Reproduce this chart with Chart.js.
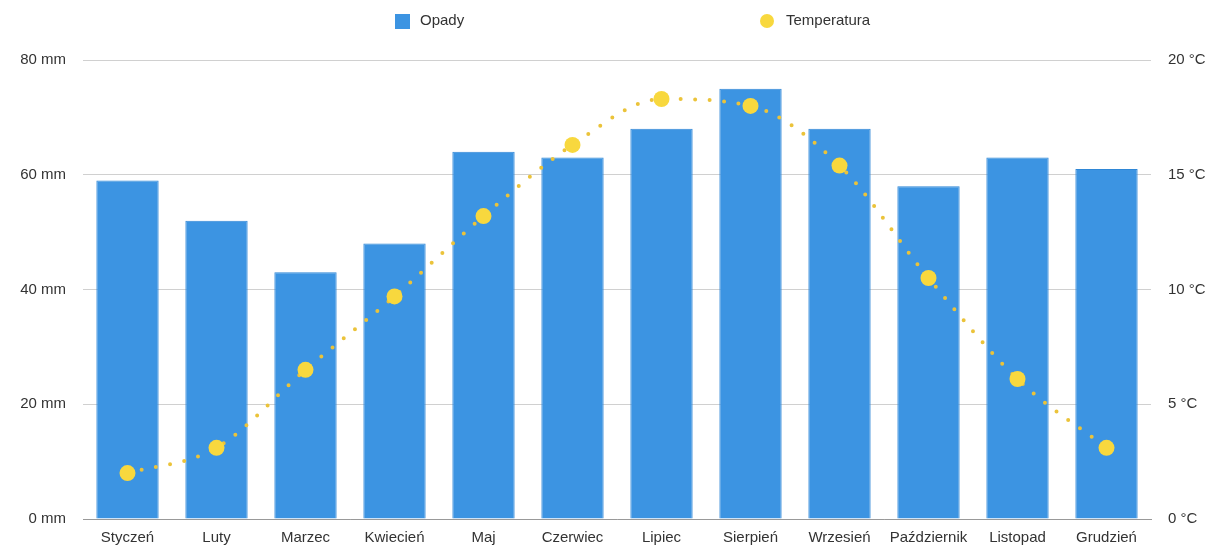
<!DOCTYPE html>
<html>
<head>
<meta charset="utf-8">
<script src="https://cdn.jsdelivr.net/npm/chart.js@4/dist/chart.umd.min.js"></script>
<style>
  html, body { margin: 0; padding: 0; background: #fff; }
  #wrap { width: 1214px; height: 551px; position: relative; }
</style>
</head>
<body>
<div id="wrap"><canvas id="c" width="1214" height="551"></canvas></div>
<script>
// Monthly climate: precipitation (mm) and mean temperature (°C)
const months = ['Styczeń', 'Luty', 'Marzec', 'Kwiecień', 'Maj', 'Czerwiec', 'Lipiec', 'Sierpień', 'Wrzesień', 'Październik', 'Listopad', 'Grudzień'];
const precipitation = [59, 52, 43, 48, 64, 63, 68, 75, 68, 58, 63, 61];
const temperature = [2.0, 3.1, 6.5, 9.7, 13.2, 16.3, 18.3, 18.0, 15.4, 10.5, 6.1, 3.1];
const seriesNames = ['Opady', 'Temperatura'];
const mmTicks = [0, 20, 40, 60, 80];
const degTicks = [0, 5, 10, 15, 20];

const FONT = '"Liberation Sans", Arial, sans-serif';
const BLUE = '#3c94e2';
const YELLOW = '#f8d83e';
const DOT = '#ebc33a';

// Legend drawn at the top, items placed at fixed spots
const topLegend = {
  id: 'topLegend',
  afterDraw(chart) {
    const ctx = chart.ctx;
    ctx.save();
    ctx.font = '15px ' + FONT;
    ctx.textBaseline = 'middle';
    ctx.fillStyle = BLUE;
    ctx.fillRect(395, 14, 15, 15);
    ctx.fillStyle = '#333';
    ctx.fillText(seriesNames[0], 420, 21);
    ctx.fillStyle = YELLOW;
    ctx.beginPath();
    ctx.arc(767, 21, 7, 0, Math.PI * 2);
    ctx.fill();
    ctx.fillStyle = '#333';
    ctx.fillText(seriesNames[1], 786, 21);
    ctx.restore();
  }
};

new Chart(document.getElementById('c'), {
  data: {
    labels: months,
    datasets: [
      {
        type: 'line',
        label: seriesNames[1],
        data: temperature,
        yAxisID: 'yT',
        borderColor: DOT,
        borderWidth: 4,
        borderCapStyle: 'round',
        borderDash: [0, 14.5],
        cubicInterpolationMode: 'monotone',
        pointRadius: 8,
        pointBackgroundColor: YELLOW,
        pointBorderWidth: 0,
        order: 0
      },
      {
        type: 'bar',
        label: seriesNames[0],
        data: precipitation,
        yAxisID: 'yP',
        backgroundColor: BLUE,
        borderColor: '#2f87d6',
        borderWidth: 1,
        categoryPercentage: 0.7,
        barPercentage: 1.0,
        order: 1
      }
    ]
  },
  options: {
    responsive: false,
    animation: false,
    layout: { padding: { top: 60, bottom: 0, left: 0, right: 0 } },
    plugins: {
      legend: { display: false },
      tooltip: { enabled: false }
    },
    scales: {
      x: {
        afterFit(s) { s.height = 32; },
        grid: { display: false, drawTicks: false },
        border: { display: true, color: '#999', width: 1 },
        ticks: { color: '#333', font: { family: FONT, size: 15 }, padding: 10, maxRotation: 0, autoSkip: false }
      },
      yP: {
        position: 'left',
        min: 0, max: 80,
        afterBuildTicks(s) { s.ticks = mmTicks.map(v => ({ value: v })); },
        afterFit(s) { s.width = 83; },
        grid: { color: '#d0d0d0', drawTicks: false },
        border: { display: false },
        ticks: { color: '#333', font: { family: FONT, size: 15 }, padding: 17, callback: v => v + ' mm' }
      },
      yT: {
        position: 'right',
        min: 0, max: 20,
        afterBuildTicks(s) { s.ticks = degTicks.map(v => ({ value: v })); },
        afterFit(s) { s.width = 63; },
        grid: { display: false, drawTicks: false },
        border: { display: false },
        ticks: { color: '#333', font: { family: FONT, size: 15 }, padding: 17, callback: v => v + ' °C' }
      }
    }
  },
  plugins: [topLegend]
});
</script>
</body>
</html>
